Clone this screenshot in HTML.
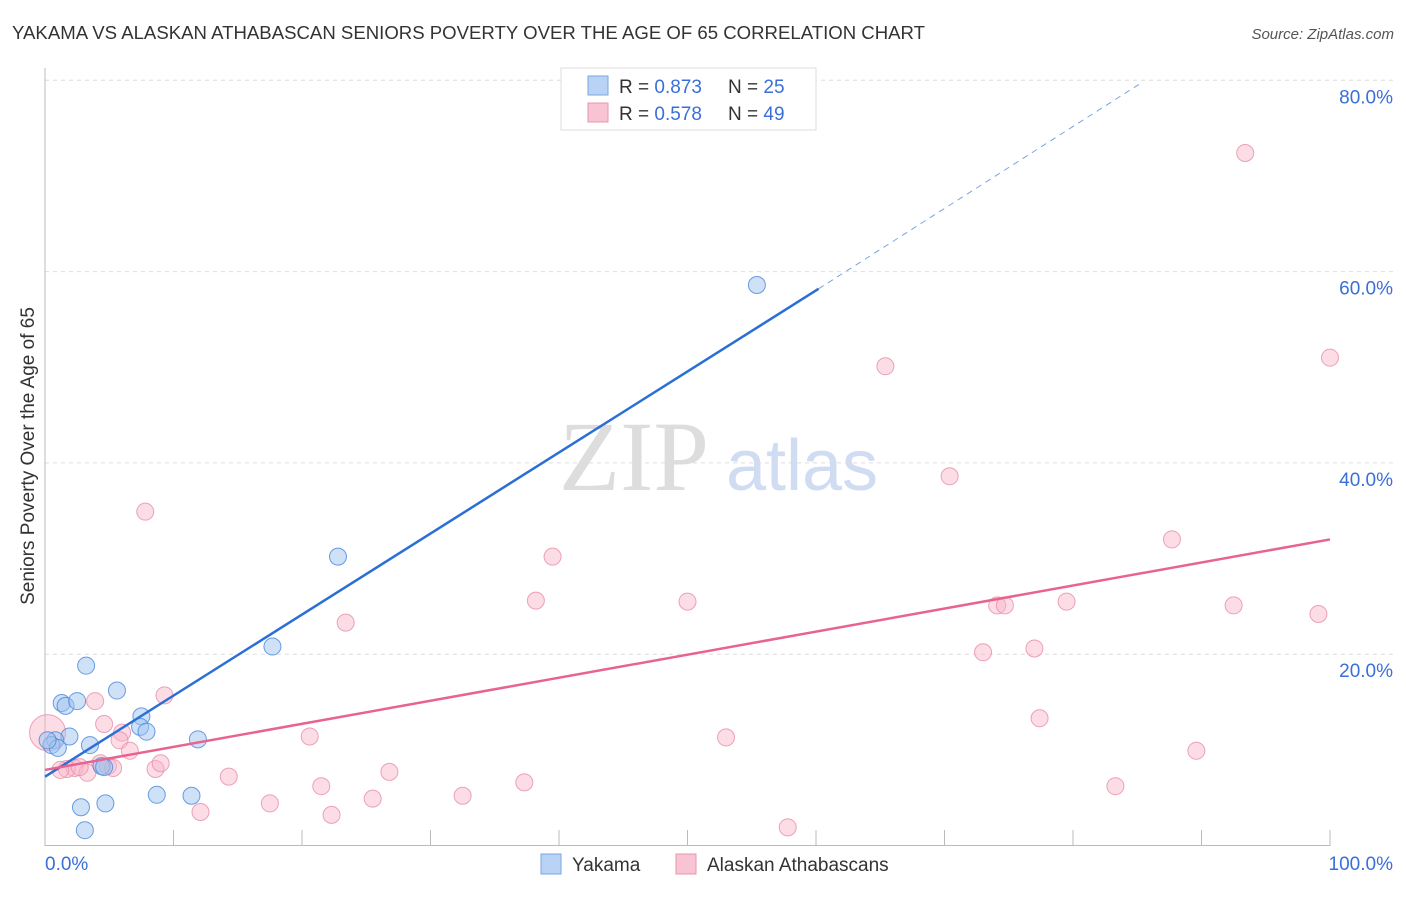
<!DOCTYPE html>
<html><head><meta charset="utf-8"><style>
body{margin:0;background:#fff;font-family:"Liberation Sans",sans-serif;}
</style></head><body>
<svg width="1406" height="892" xmlns="http://www.w3.org/2000/svg">
<text x="12" y="39" font-size="18" fill="#333" textLength="913" lengthAdjust="spacingAndGlyphs">YAKAMA VS ALASKAN ATHABASCAN SENIORS POVERTY OVER THE AGE OF 65 CORRELATION CHART</text>
<text x="1394" y="39" font-size="15" fill="#555" font-style="italic" text-anchor="end">Source: ZipAtlas.com</text>
<text x="0" y="0" transform="translate(34,456) rotate(-90)" font-size="19" fill="#333" text-anchor="middle">Seniors Poverty Over the Age of 65</text>
<text x="634" y="490" font-size="100" fill="#ddd" font-family="Liberation Serif,serif" text-anchor="middle">ZIP</text>
<text x="802" y="490" font-size="72" fill="#cfdcf2" text-anchor="middle">atlas</text>
<g id="grid"></g><g id="axes"></g><g id="marks"></g>
<g>
<rect x="561" y="68" width="255" height="62" fill="#fff" stroke="#ddd"/>
<rect x="588" y="76" width="20" height="19" fill="#b9d3f6" stroke="#7ba6e0"/>
<rect x="588" y="103" width="20" height="19" fill="#f8c4d3" stroke="#e893ae"/>
<text x="619" y="93" font-size="19" fill="#333">R = <tspan fill="#3a6fd8">0.873</tspan></text>
<text x="728" y="93" font-size="19" fill="#333">N = <tspan fill="#3a6fd8">25</tspan></text>
<text x="619" y="120" font-size="19" fill="#333">R = <tspan fill="#3a6fd8">0.578</tspan></text>
<text x="728" y="120" font-size="19" fill="#333">N = <tspan fill="#3a6fd8">49</tspan></text>
</g>
<g>
<rect x="541" y="854" width="20" height="20" fill="#b9d3f6" stroke="#7ba6e0"/>
<text x="572" y="871" font-size="19" fill="#333">Yakama</text>
<rect x="676" y="854" width="20" height="20" fill="#f8c4d3" stroke="#e893ae"/>
<text x="707" y="871" font-size="19" fill="#333">Alaskan Athabascans</text>
</g>
</svg>
<script>
const yTicks=[20,40,60,80];
const xTickLabels=["0.0%","100.0%"];
const blueX=[3.2,1.3,1.6,2.5,5.6,1.9,0.8,0.5,1.0,3.5,7.5,7.4,7.9,11.9,4.4,4.6,8.7,11.4,2.8,4.7,3.1,17.7,22.8,55.4,0.2];
const blueY=[18.8,14.9,14.6,15.1,16.2,11.4,11.0,10.5,10.2,10.5,13.5,12.4,11.9,11.1,8.3,8.2,5.3,5.2,4.0,4.4,1.6,20.8,30.2,58.6,11.0];
const pinkX=[7.8,3.9,9.3,4.6,6.0,5.8,6.6,4.3,4.9,2.3,1.7,3.3,5.3,8.6,9.0,14.3,12.1,17.5,20.6,21.5,22.3,23.4,25.5,26.8,32.5,37.3,38.2,39.5,50.0,53.0,57.8,65.4,70.4,73.0,74.1,74.7,77.0,77.4,79.5,83.3,87.7,89.6,92.5,93.4,99.1,100,1.2,2.7,0.2];
const pinkY=[34.9,15.1,15.7,12.7,11.8,11.0,9.9,8.6,8.3,8.1,8.0,7.6,8.1,8.0,8.6,7.2,3.5,4.4,11.4,6.2,3.2,23.3,4.9,7.7,5.2,6.6,25.6,30.2,25.5,11.3,1.9,50.1,38.6,20.2,25.1,25.1,20.6,13.3,25.5,6.2,32.0,9.9,25.1,72.4,24.2,51.0,7.9,8.2,11.8];
const blueLine=[[0,7.2],[60.2,58.2]];
const blueDash=[[60.2,58.2],[85.4,79.8]];
const pinkLine=[[0,7.9],[100,32.0]];
const NS="http://www.w3.org/2000/svg";
const sx=v=>45+v*12.85, sy=v=>845.5-v*9.565;
function mk(t,a,p){const e=document.createElementNS(NS,t);for(const k in a)e.setAttribute(k,a[k]);p.appendChild(e);return e;}
const grid=document.getElementById('grid'),axes=document.getElementById('axes'),marks=document.getElementById('marks');
yTicks.forEach(t=>{
 const l=mk('line',{x1:45,x2:1395,y1:sy(t),y2:sy(t),stroke:'#ddd','stroke-dasharray':'4,4'},grid);
 
 
 const tx=mk('text',{x:1393,y:sy(t)+23,'font-size':19,fill:'#3a6fd8','text-anchor':'end'},axes);
 tx.textContent=t.toFixed(1)+'%';
 
 
});
mk('line',{x1:45,x2:45,y1:68,y2:846,stroke:'#bbb'},axes);
mk('line',{x1:45,x2:1330,y1:845.5,y2:845.5,stroke:'#bbb'},axes);
for(let i=1;i<=10;i++){mk('line',{x1:sx(i*10),x2:sx(i*10),y1:830,y2:846,stroke:'#bbb'},axes);}
[[0,'start',45],[100,'end',1393]].forEach((d,i)=>{
 const tx=mk('text',{x:d[2],y:870,'font-size':19,fill:'#3a6fd8','text-anchor':d[1]},axes);
 tx.textContent=xTickLabels[i];
 
 
});
pinkX.forEach((x,i)=>{
 const big=(i===pinkX.length-1);
 const c=mk('circle',{cx:sx(x),cy:sy(pinkY[i]),r:big?18:8.5,fill:'rgba(248,180,200,0.45)',stroke:'rgba(232,140,170,0.8)','stroke-width':1},marks);
 
 
});
blueX.forEach((x,i)=>{
 const c=mk('circle',{cx:sx(x),cy:sy(blueY[i]),r:8.5,fill:'rgba(160,195,240,0.5)',stroke:'rgba(80,140,220,0.85)','stroke-width':1},marks);
 
 
});
let l=mk('line',{x1:sx(blueLine[0][0]),y1:sy(blueLine[0][1]),x2:sx(blueLine[1][0]),y2:sy(blueLine[1][1]),stroke:'#2a6fd6','stroke-width':2.5},marks);


l=mk('line',{x1:sx(blueDash[0][0]),y1:sy(blueDash[0][1]),x2:sx(blueDash[1][0]),y2:sy(blueDash[1][1]),stroke:'#7aa3e0','stroke-width':1,'stroke-dasharray':'6,5'},marks);


l=mk('line',{x1:sx(pinkLine[0][0]),y1:sy(pinkLine[0][1]),x2:sx(pinkLine[1][0]),y2:sy(pinkLine[1][1]),stroke:'#e8638f','stroke-width':2.5},marks);


</script>
</body></html>
